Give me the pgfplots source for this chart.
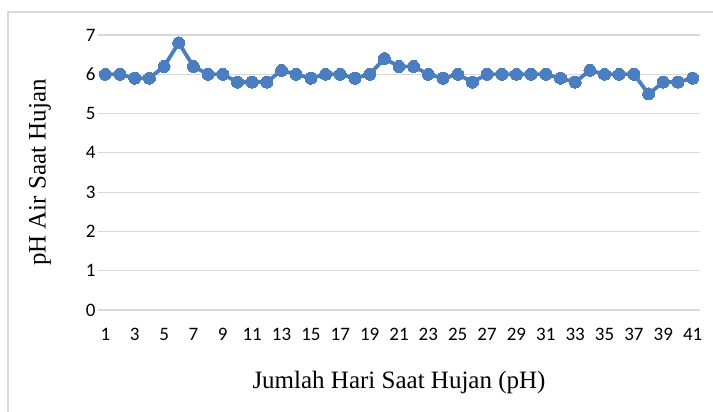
\documentclass[border=0pt]{standalone}
\usepackage{pgfplots}
\pgfplotsset{compat=1.18}
\usepackage{fontspec}
\setmainfont{Liberation Serif}
\newfontfamily\tickfont{Carlito}
\definecolor{lineblue}{RGB}{74,126,190}
\definecolor{gridgray}{RGB}{217,217,217}
\begin{document}
\begin{tikzpicture}
\path[use as bounding box] (0pt,0pt) rectangle (713pt,412pt);
\draw[gridgray, line width=1.2pt] (8pt,-5pt) -- (8pt,400pt) -- (720pt,400pt);
\begin{axis}[
  at={(98pt,102pt)}, anchor=south west,
  scale only axis, width=602pt, height=275pt,
  xmin=0.5, xmax=41.5, ymin=0, ymax=7,
  xtick={1,3,...,41}, ytick={0,1,...,7},
  axis line style={draw=none},
  major tick length=0pt,
  ymajorgrids, grid style={gridgray, line width=1.2pt},
  tick label style={font=\tickfont\fontsize{19}{22}\selectfont},
  /pgf/number format/assume math mode=true,
  yticklabel style={xshift=1pt},
  xticklabel style={yshift=-15pt},
  xlabel={Jumlah Hari Saat Hujan (pH)},
  ylabel={pH Air Saat Hujan},
  label style={font=\fontsize{25}{29}\selectfont},
  xlabel style={at={(axis description cs:0.5,-0.2618)}, anchor=center},
  ylabel style={at={(axis description cs:-0.0963,0.5)}, anchor=center},
  clip=false,
]
\addplot[lineblue, line width=3.8pt, mark=*, mark size=6pt, mark options={fill=lineblue, draw=lineblue, line width=0pt}] coordinates {
(1,6.0) (2,6.0) (3,5.9) (4,5.9) (5,6.2) (6,6.8) (7,6.2) (8,6.0) (9,6.0) (10,5.8)
(11,5.8) (12,5.8) (13,6.1) (14,6.0) (15,5.9) (16,6.0) (17,6.0) (18,5.9) (19,6.0) (20,6.4)
(21,6.2) (22,6.2) (23,6.0) (24,5.9) (25,6.0) (26,5.8) (27,6.0) (28,6.0) (29,6.0) (30,6.0)
(31,6.0) (32,5.9) (33,5.8) (34,6.1) (35,6.0) (36,6.0) (37,6.0) (38,5.5) (39,5.8) (40,5.8)
(41,5.9)
};
\end{axis}
\end{tikzpicture}
\end{document}
